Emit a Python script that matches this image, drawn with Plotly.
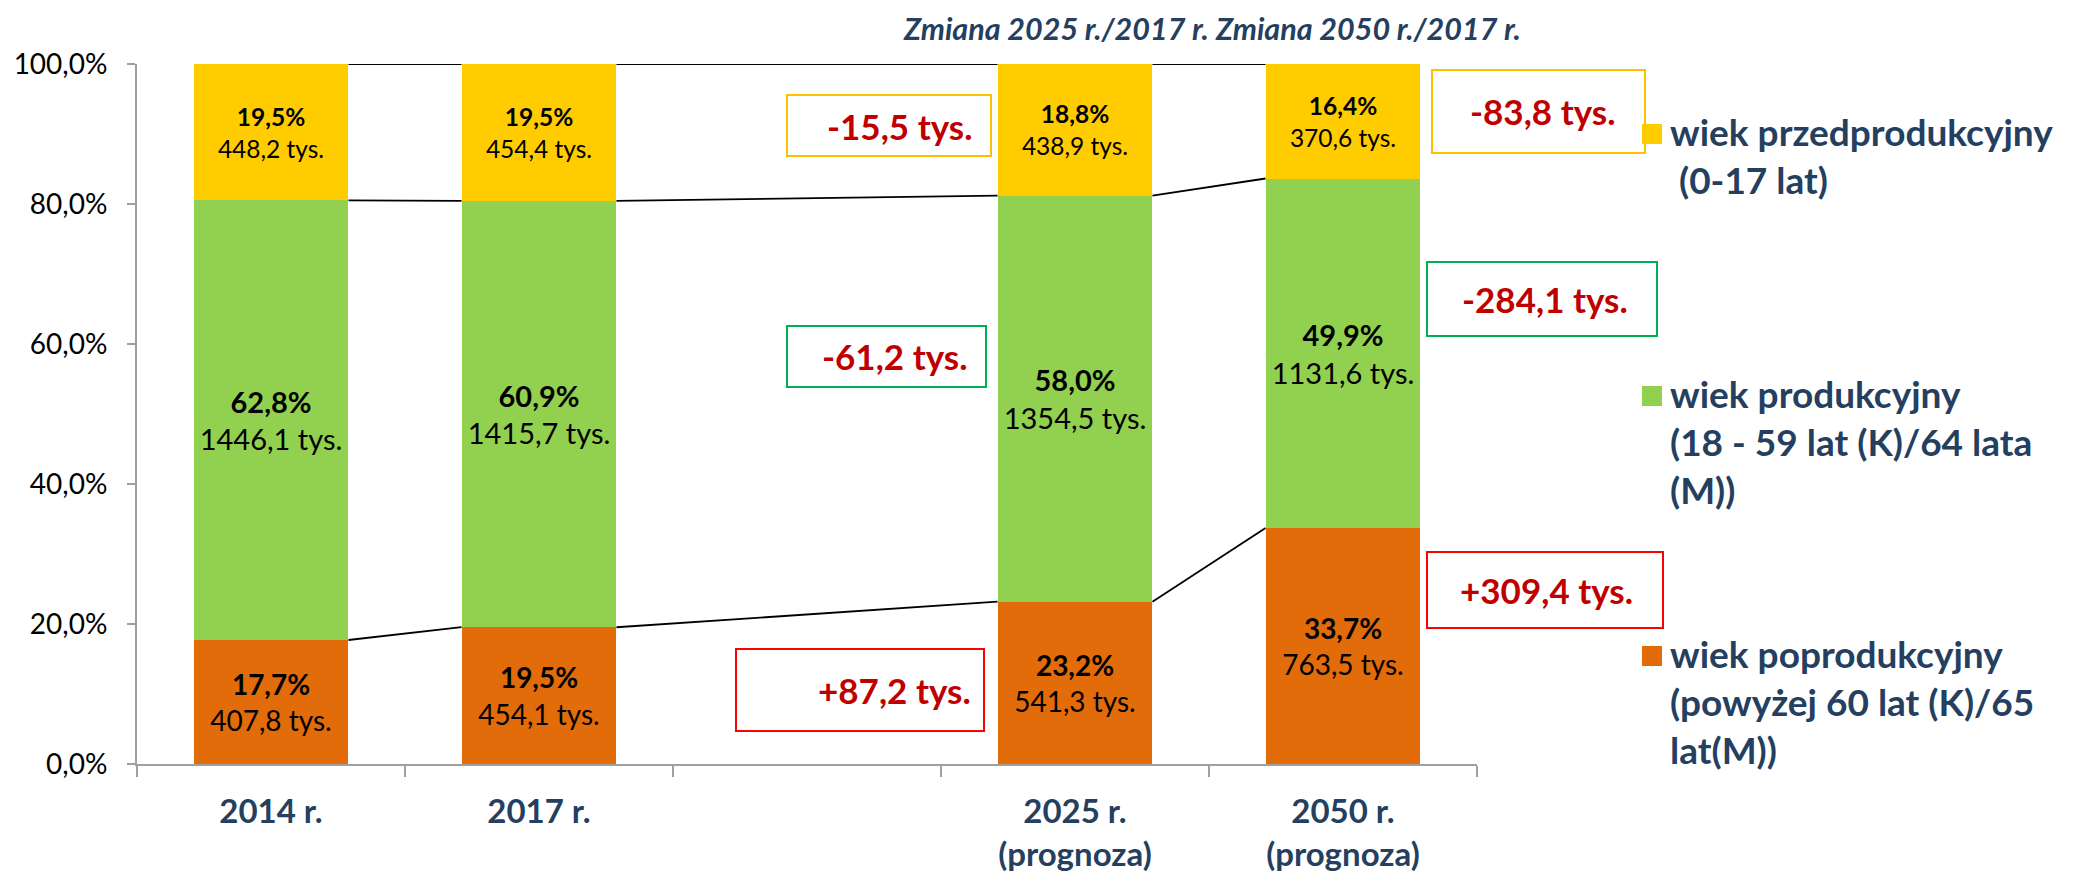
import plotly.graph_objects as go

# Struktura ludności wg ekonomicznych grup wieku (tys. osób i %)
kategorie = ["2014 r.", "2017 r.", "", "2025 r.<br>(prognoza)", "2050 r.<br>(prognoza)"]

przedprod = [448.2, 454.4, None, 438.9, 370.6]
prod = [1446.1, 1415.7, None, 1354.5, 1131.6]
poprod = [407.8, 454.1, None, 541.3, 763.5]

przedprod_pct = [19.5, 19.5, None, 18.8, 16.4]
prod_pct = [62.8, 60.9, None, 58.0, 49.9]
poprod_pct = [17.7, 19.5, None, 23.2, 33.7]

serie = [
    "wiek przedprodukcyjny<br>\u00a0(0-17 lat)",
    "wiek produkcyjny<br>(18 - 59 lat (K)/64 lata<br>(M))",
    "wiek poprodukcyjny<br>(powyżej 60 lat (K)/65<br>lat(M))",
]
kolory = ["#FFCC00", "#92D050", "#E26B0A"]

zmiana_2025 = ["-15,5 tys.", "-61,2 tys.", "+87,2 tys."]
zmiana_2050 = ["-83,8 tys.", "-284,1 tys.", "+309,4 tys."]
kolory_ramek = ["#FFC000", "#00B050", "#FF0000"]

tytuly = ["Zmiana 2025 r./2017 r.", "Zmiana 2050 r./2017 r."]

GRANAT = "#243F60"
FONT = "Lato"
W = 0.578  # szerokosc slupka


def pl(v):
    return f"{v:.1f}".replace(".", ",")


def etykiety(pct, val):
    return [f"<b>{pl(p)}%</b><br>{pl(v)} tys." if v is not None else "" for p, v in zip(pct, val)]


x = list(range(len(kategorie)))

fig = go.Figure()
for val, pct, kol, rozm in [
    (poprod, poprod_pct, kolory[2], 28),
    (prod, prod_pct, kolory[1], 29),
    (przedprod, przedprod_pct, kolory[0], 24.5),
]:
    fig.add_trace(go.Bar(
        x=x, y=val, width=W, marker=dict(color=kol, line=dict(width=0)),
        text=etykiety(pct, val), textposition="inside", insidetextanchor="middle",
        textangle=0, textfont=dict(family=FONT, size=rozm, color="black"),
        showlegend=False,
    ))

# linie serii łączące słupki
idx = [i for i, v in enumerate(prod) if v is not None]
poziomy = []
for i in idx:
    s = poprod[i] + prod[i] + przedprod[i]
    poziomy.append((poprod[i] / s, (poprod[i] + prod[i]) / s, 1.0))
for k in range(3):
    lx, ly = [], []
    for a in range(len(idx) - 1):
        lx += [idx[a] + W / 2, idx[a + 1] - W / 2, None]
        ly += [poziomy[a][k], poziomy[a + 1][k], None]
    fig.add_trace(go.Scatter(x=lx, y=ly, mode="lines", line=dict(color="black", width=1.8),
                             showlegend=False, hoverinfo="skip"))

# strona ma 8 px marginesu, wykres jest o tyle mniejszy
OFF = 8
SZER, WYS = 2076 - OFF, 876 - OFF
L, R, T, B = 137, 1477, 64, 764  # obszar wykresu we wspolrzednych okna


def px(v):
    return (v - L) / (R - L)


def py(v):
    return (B - v) / (B - T)


shapes = []
annotations = []

# ramki ze zmianami
ramki = [
    (787, 991, 95, 156, 974), (787, 986, 326, 387, 969), (736, 984, 649, 731, 973),
    (1432, 1645, 70, 153, 1617), (1427, 1657, 262, 336, 1630), (1427, 1663, 552, 628, 1635),
]
teksty = zmiana_2025 + zmiana_2050
for (x0, x1, y0, y1, xt), txt, kol in zip(ramki, teksty, kolory_ramek * 2):
    shapes.append(dict(type="rect", xref="paper", yref="paper", x0=px(x0), x1=px(x1),
                       y0=py(y1), y1=py(y0), line=dict(color=kol, width=2), fillcolor="white", layer="above"))
    annotations.append(dict(xref="paper", yref="paper", x=px(xt), y=py((y0 + y1) / 2),
                            xanchor="right", yanchor="middle", showarrow=False, text=f"<b>{txt}</b>",
                            font=dict(family=FONT, size=35, color="#C00000")))

# tytuły kolumn zmian
for t, cx in zip(tytuly, [1056, 1368]):
    annotations.append(dict(xref="paper", yref="paper", x=px(cx), y=py(OFF + 1), xanchor="center",
                            yanchor="top", borderpad=0, showarrow=False, text=f"<b><i>{t}</i></b>",
                            font=dict(family=FONT, size=30.5, color=GRANAT)))

# legenda
for nazwa, kol, cy in zip(serie, kolory, [134, 396, 656]):
    shapes.append(dict(type="rect", xref="paper", yref="paper", x0=px(1642), x1=px(1662),
                       y0=py(cy + 10), y1=py(cy - 10), line=dict(width=0), fillcolor=kol))
    annotations.append(dict(xref="paper", yref="paper", x=px(1668), y=py(cy - 27), xanchor="left",
                            yanchor="top", align="left", showarrow=False, text=f"<b>{nazwa}</b>",
                            font=dict(family=FONT, size=37, color=GRANAT)))

fig.update_layout(
    width=SZER, height=WYS,
    margin=dict(l=L - OFF, r=2076 - R, t=T - OFF, b=876 - B),
    barmode="stack", barnorm="fraction",
    separators=", ",
    plot_bgcolor="white", paper_bgcolor="white",
    shapes=shapes, annotations=annotations,
    showlegend=False,
)
fig.update_yaxes(
    range=[0, 1], tickvals=[0, 0.2, 0.4, 0.6, 0.8, 1.0], tickformat=".1%",
    showgrid=False, zeroline=False, showline=True, linecolor="#A0A0A0", linewidth=2,
    ticks="outside", ticklen=8, tickcolor="#A0A0A0", tickwidth=2, ticklabelstandoff=14,
    tickfont=dict(family=FONT, size=28, color="black"), automargin=False,
)
fig.update_xaxes(
    range=[-0.5, len(kategorie) - 0.5], tickvals=x, ticktext=kategorie, ticks="",
    showgrid=False, zeroline=False, showline=True, linecolor="#A0A0A0", linewidth=2,
    minor=dict(tickvals=[i - 0.5 for i in range(len(kategorie) + 1)], ticks="outside",
               ticklen=11, tickcolor="#A0A0A0", tickwidth=2, showgrid=False),
    ticklabelstandoff=17, automargin=False,
    tickfont=dict(family=FONT, size=33, color=GRANAT, weight="bold"),
)

fig.write_html("out.html")
